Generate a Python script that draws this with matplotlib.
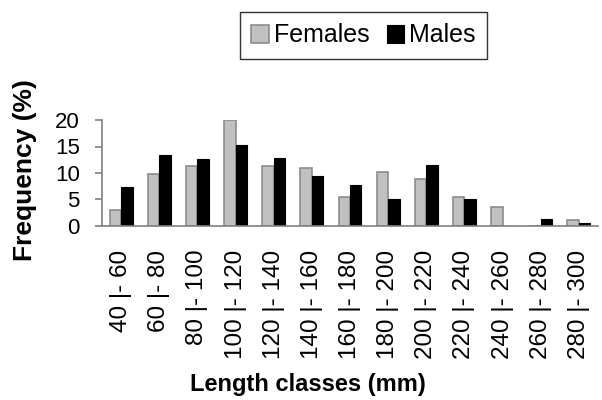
import matplotlib
matplotlib.use("Agg")
import matplotlib.pyplot as plt
import numpy as np

# length classes and frequencies (%)
classes = ["40 |- 60", "60 |- 80", "80 |- 100", "100 |- 120", "120 |- 140",
           "140 |- 160", "160 |- 180", "180 |- 200", "200 |- 220", "220 |- 240",
           "240 |- 260", "260 |- 280", "280 |- 300"]
females = [3.1, 9.9, 11.4, 20.0, 11.4, 11.0, 5.4, 10.2, 8.8, 5.4, 3.5, 0.0, 1.2]
males = [7.3, 13.4, 12.6, 15.2, 12.9, 9.5, 7.7, 5.0, 11.5, 5.0, 0.0, 1.3, 0.5]

plt.rcParams['font.family'] = ['Liberation Sans', 'DejaVu Sans']

fig = plt.figure(figsize=(6.02, 4.00), dpi=100)
ax = fig.add_axes([102 / 602, 1 - 226 / 400, 496 / 602, 106 / 400])

x = np.arange(len(classes))
w = 0.3
ax.bar(x - w / 2, females, w, color='#c0c0c0', edgecolor='#8c8c8c', linewidth=1.2, label='Females')
ax.bar(x + w / 2, males, w, color='black', edgecolor='black', linewidth=0.8, label='Males')

ax.set_xlim(-0.5, len(classes) - 0.5)
ax.set_ylim(0, 20)
ax.set_yticks([0, 5, 10, 15, 20])
ax.set_xticks(x)
ax.set_xticklabels(classes, rotation=90, fontsize=17.5, va='top', ha='center')
ax.tick_params(axis='x', length=0, pad=17)
ax.tick_params(axis='y', labelsize=16, length=5, color='#808080', width=1.2, pad=11)

for s in ['top', 'right']:
    ax.spines[s].set_visible(False)
for s in ['left', 'bottom']:
    ax.spines[s].set_color('#808080')
    ax.spines[s].set_linewidth(1.2)

fig.text(25 / 602, 1 - 170 / 400, 'Frequency (%)', rotation=90, fontsize=19,
         fontweight='bold', ha='center', va='center')
fig.text(308 / 602, 1 - 384 / 400, 'Length classes (mm)', fontsize=17,
         fontweight='bold', ha='center', va='center')

leg = fig.legend(loc='center', bbox_to_anchor=(363.5 / 602, 1 - 35.5 / 400), ncol=2,
                 fontsize=18, frameon=True, fancybox=False, edgecolor='black',
                 handlelength=0.7, handleheight=0.7, handletextpad=0.2,
                 columnspacing=0.7, borderpad=0.45, borderaxespad=0)
leg.get_frame().set_linewidth(1.0)

fig.savefig('out.png', dpi=100)
